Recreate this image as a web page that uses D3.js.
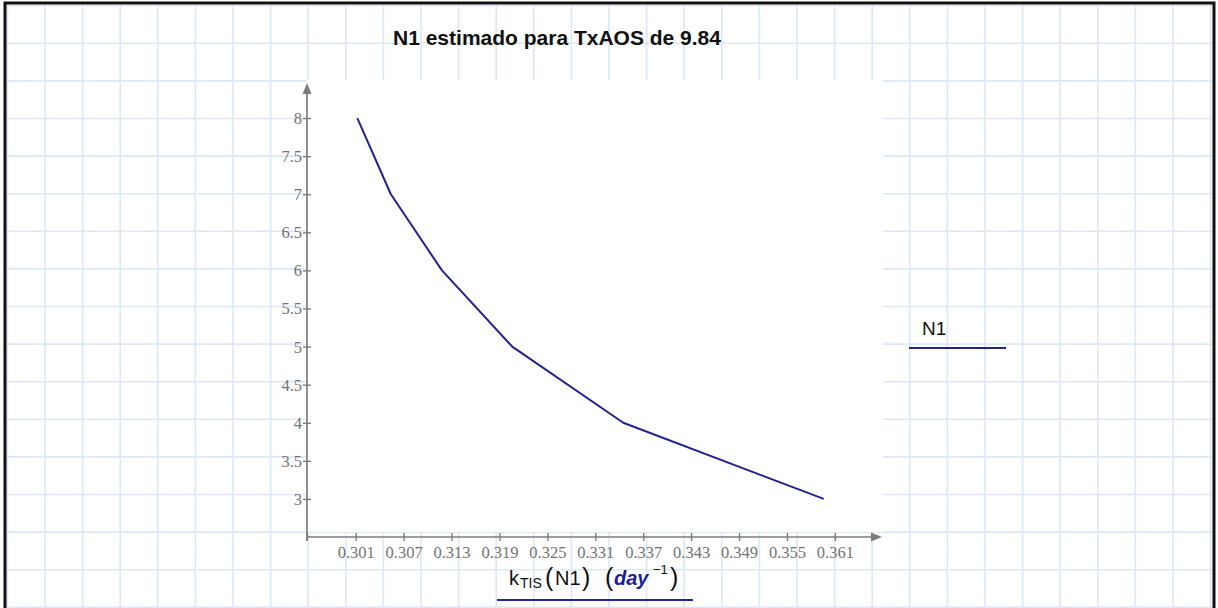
<!DOCTYPE html>
<html>
<head>
<meta charset="utf-8">
<script src="https://cdn.jsdelivr.net/npm/d3@7"></script>
<style>
  html, body { margin: 0; padding: 0; background: #ffffff; }
  svg { display: block; }
</style>
</head>
<body>
<svg id="chart" width="1218" height="608"></svg>
<script>
// Number of tanks N1 against the tanks-in-series rate constant k_TIS (day^-1)
const nValues = [8, 7, 6, 5, 4, 3];
const kValues = [0.3012, 0.3054, 0.3118, 0.3206, 0.3345, 0.3596];
const xTickValues = [0.301, 0.307, 0.313, 0.319, 0.325, 0.331, 0.337, 0.343, 0.349, 0.355, 0.361];
const yTickValues = [3, 3.5, 4, 4.5, 5, 5.5, 6, 6.5, 7, 7.5, 8];
const titleText = "N1 estimado para TxAOS de 9.84";
const legendLabel = "N1";

const W = 1218, H = 608;
const svg = d3.select("#chart");

const lineColor = "#22228e";
const axisColor = "#7d7d7d";
const gridColor = "#dde7f5";

// worksheet background: square grid inside a black frame
const gridStep = 37.6, gx0 = 7.4, gy0 = 5.7;
const grid = svg.append("g");
for (let gxp = gx0; gxp < W - 3; gxp += gridStep) {
  grid.append("line").attr("x1", gxp).attr("x2", gxp).attr("y1", 3).attr("y2", H)
    .attr("stroke", gridColor).attr("stroke-width", 1.6);
}
for (let gyp = gy0; gyp < H; gyp += gridStep) {
  grid.append("line").attr("x1", 5).attr("x2", W - 4).attr("y1", gyp).attr("y2", gyp)
    .attr("stroke", gridColor).attr("stroke-width", 1.6);
}
svg.append("path")
  .attr("d", `M5,${H + 5} L5,3 L${W - 4},3 L${W - 4},${H + 5}`)
  .attr("fill", "none").attr("stroke", "#111").attr("stroke-width", 3);

// plot region
const plotL = 307, plotR = 882, plotT = 80, plotB = 537;
const x = d3.scaleLinear().domain([0.2949, 0.3669]).range([plotL, plotR]);
const y = d3.scaleLinear().domain([2.5, 8.5]).range([plotB, plotT]);

svg.append("rect")
  .attr("x", plotL).attr("y", plotT)
  .attr("width", plotR - plotL + 1).attr("height", 532 - plotT)
  .attr("fill", "#ffffff");

// title
svg.append("text")
  .attr("x", 557).attr("y", 45)
  .attr("text-anchor", "middle")
  .attr("font-family", "'Liberation Sans', Arial, sans-serif")
  .attr("font-weight", "bold").attr("font-size", 21)
  .attr("fill", "#111")
  .text(titleText);

// axes with cross-shaped ticks
const tickFont = "'Liberation Serif', 'DejaVu Serif', serif";
const xAxis = d3.axisBottom(x).tickValues(xTickValues).tickFormat(d3.format(".3f")).tickSizeOuter(0);
const yAxis = d3.axisLeft(y).tickValues(yTickValues).tickFormat(d => String(d)).tickSizeOuter(0);

const gX = svg.append("g").attr("transform", `translate(0,${plotB})`).call(xAxis);
const gY = svg.append("g").attr("transform", `translate(${plotL},0)`).call(yAxis);

[gX, gY].forEach(g => {
  g.select(".domain").remove();
  g.selectAll(".tick line").attr("stroke", axisColor).attr("stroke-width", 1.4);
  g.selectAll(".tick text")
    .attr("font-family", tickFont).attr("font-size", 16.5)
    .attr("fill", "#737373");
});
gX.selectAll(".tick line").attr("y1", -4).attr("y2", 4);
gX.selectAll(".tick text").attr("y", 21).attr("dy", 0);
gY.selectAll(".tick line").attr("x1", -4).attr("x2", 4);
gY.selectAll(".tick text").attr("x", -5).attr("dy", "0.33em");

// axis lines with arrowheads
svg.append("line").attr("x1", plotL).attr("x2", plotR - 8).attr("y1", plotB).attr("y2", plotB)
  .attr("stroke", axisColor).attr("stroke-width", 1.7);
svg.append("line").attr("x1", plotL).attr("x2", plotL).attr("y1", plotB + 4).attr("y2", plotT + 10)
  .attr("stroke", axisColor).attr("stroke-width", 1.7);
svg.append("line").attr("x1", plotL).attr("x2", plotL).attr("y1", plotB - 4).attr("y2", plotB + 4)
  .attr("stroke", axisColor).attr("stroke-width", 1.4);
svg.append("path")
  .attr("d", `M${plotR},${plotB} L${plotR - 11},${plotB - 4.5} L${plotR - 11},${plotB + 4.5} Z`)
  .attr("fill", axisColor);
svg.append("path")
  .attr("d", `M${plotL},${plotT + 3} L${plotL - 4.5},${plotT + 14} L${plotL + 4.5},${plotT + 14} Z`)
  .attr("fill", axisColor);

// data line
const pts = kValues.map((k, i) => [k, nValues[i]]);
svg.append("path")
  .datum(pts)
  .attr("fill", "none")
  .attr("stroke", lineColor)
  .attr("stroke-width", 2)
  .attr("stroke-linejoin", "round")
  .attr("d", d3.line().x(d => x(d[0])).y(d => y(d[1])));

// legend
svg.append("text")
  .attr("x", 922).attr("y", 335)
  .attr("font-family", "'Liberation Sans', Arial, sans-serif")
  .attr("font-size", 19).attr("fill", "#111")
  .text(legendLabel);
svg.append("line")
  .attr("x1", 909).attr("x2", 1006).attr("y1", 348).attr("y2", 348)
  .attr("stroke", lineColor).attr("stroke-width", 2);

// x-axis title: k_TIS(N1) (day^-1)
const sans = "'Liberation Sans', Arial, sans-serif";
const xt = svg.append("text")
  .attr("y", 585)
  .attr("font-family", sans).attr("font-size", 20).attr("fill", "#111");
xt.append("tspan").attr("x", 509).text("k");
xt.append("tspan").attr("x", 520).attr("dy", 3).attr("font-size", 14).text("TIS");
xt.append("tspan").attr("x", 545).attr("dy", -2).attr("font-size", 25).text("(");
xt.append("tspan").attr("x", 555).attr("dy", -1).text("N1");
xt.append("tspan").attr("x", 582).attr("dy", 1).attr("font-size", 25).text(")");
xt.append("tspan").attr("x", 605).attr("font-size", 25).text("(");
xt.append("tspan").attr("x", 614).attr("dy", -1).attr("font-weight", "bold").attr("font-style", "italic")
  .attr("fill", "#1c1c9c").text("day");
xt.append("tspan").attr("x", 653).attr("dy", -11).attr("font-size", 13).text("\u22121");
xt.append("tspan").attr("x", 670).attr("dy", 12).attr("font-size", 25).text(")");

svg.append("line")
  .attr("x1", 497).attr("x2", 693).attr("y1", 600).attr("y2", 600)
  .attr("stroke", "#2424a0").attr("stroke-width", 2);
</script>
</body>
</html>
